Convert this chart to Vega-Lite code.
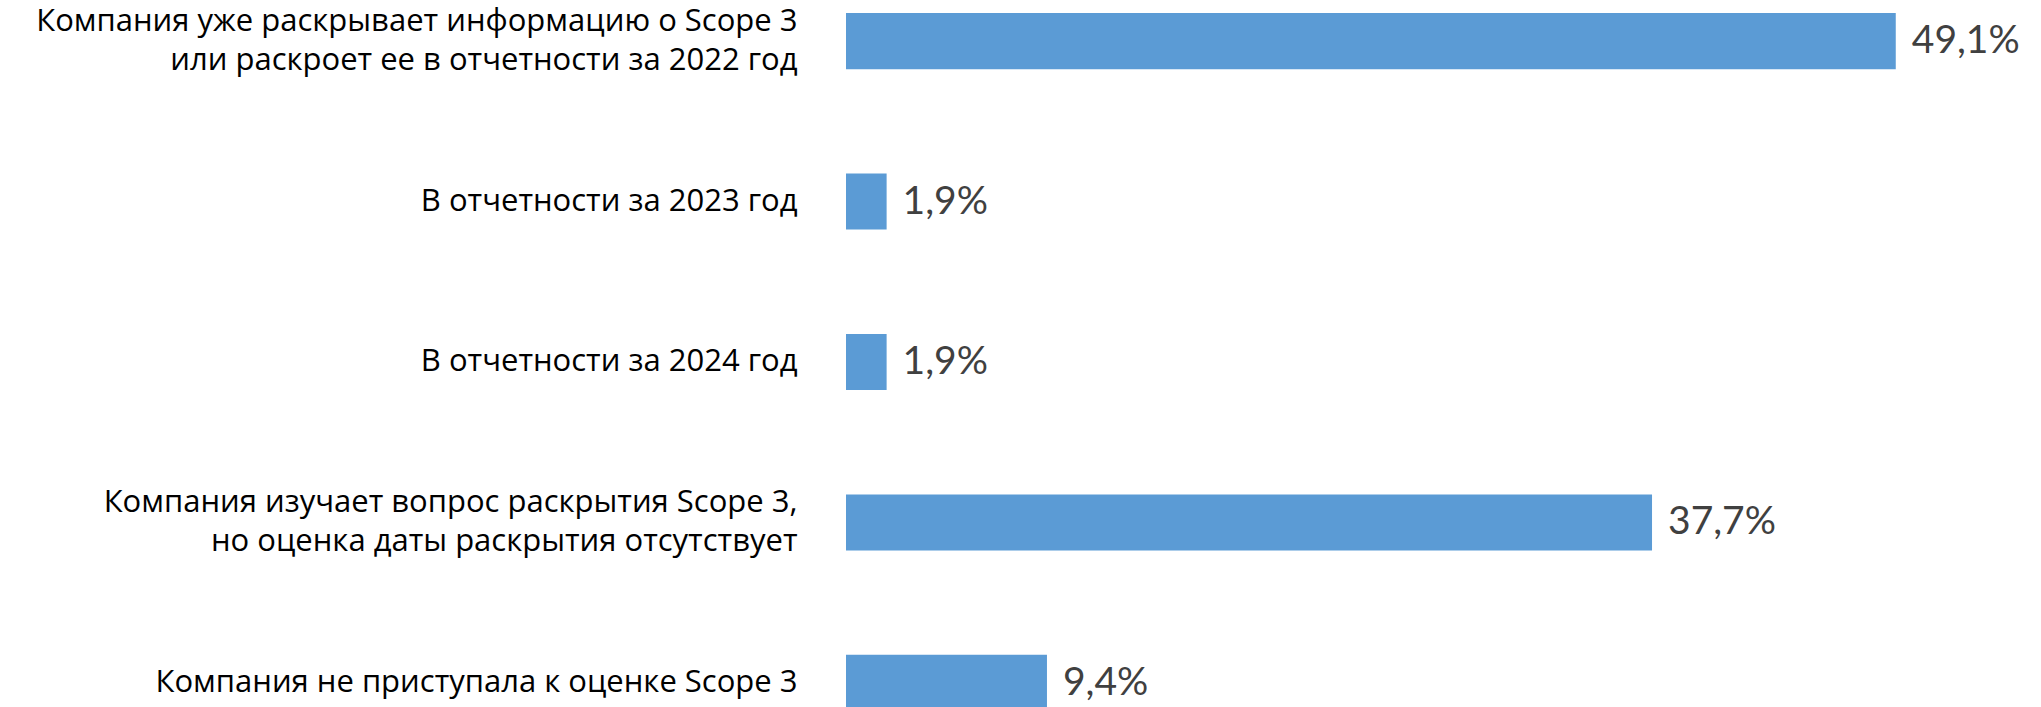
{
  "$schema": "https://vega.github.io/schema/vega-lite/v6.json",
  "width": 1069,
  "height": 724,
  "padding": 0,
  "background": "white",
  "config": {
    "view": {"stroke": null},
    "locale": {"number": {"decimal": ",", "thousands": " ", "grouping": [3], "currency": ["", ""]}}
  },
  "data": {
    "values": [
      {"category": "Компания уже раскрывает информацию о Scope 3\nили раскроет ее в отчетности за 2022 год", "value": 0.491},
      {"category": "В отчетности за 2023 год", "value": 0.019},
      {"category": "В отчетности за 2024 год", "value": 0.019},
      {"category": "Компания изучает вопрос раскрытия Scope 3,\nно оценка даты раскрытия отсутствует", "value": 0.377},
      {"category": "Компания не приступала к оценке Scope 3", "value": 0.094}
    ]
  },
  "encoding": {
    "y": {
      "field": "category",
      "type": "nominal",
      "sort": null,
      "scale": {"paddingInner": 0.65, "paddingOuter": 0.081},
      "axis": {
        "title": null,
        "domain": false,
        "ticks": false,
        "labelPadding": 49,
        "minExtent": 846,
        "maxExtent": 846,
        "labelFont": "Open Sans",
        "labelFontSize": 31,
        "labelColor": "#000000",
        "labelLimit": 1000,
        "labelLineHeight": 39,
        "labelOffset": {"condition": {"test": "indexof(datum.value, '\\n') >= 0", "value": -19}, "value": 0},
        "labelExpr": "split(datum.label, '\\n')"
      }
    }
  },
  "layer": [
    {
      "mark": {"type": "bar", "color": "#5B9BD5"},
      "encoding": {
        "x": {"field": "value", "type": "quantitative", "scale": {"domain": [0, 0.5], "nice": false}, "axis": null}
      }
    },
    {
      "mark": {"type": "text", "align": "left", "baseline": "middle", "dx": 16, "font": "Lato", "fontSize": 39, "color": "#404040"},
      "encoding": {
        "x": {"field": "value", "type": "quantitative"},
        "text": {"field": "value", "type": "quantitative", "format": ".1%"}
      }
    }
  ]
}
